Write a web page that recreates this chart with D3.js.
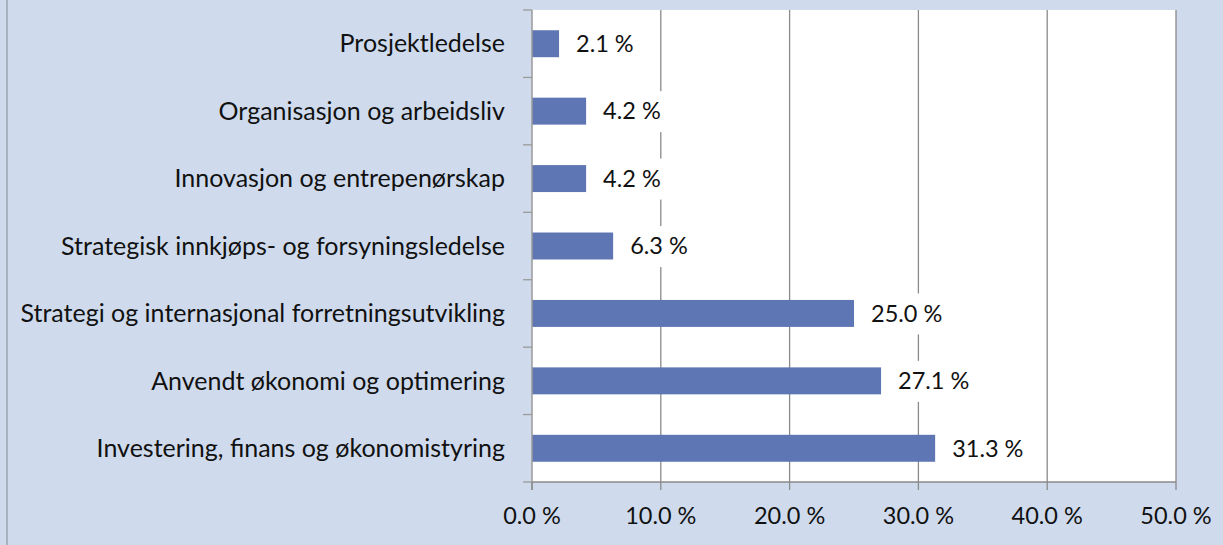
<!DOCTYPE html>
<html>
<head>
<meta charset="utf-8">
<script src="https://d3js.org/d3.v7.min.js"></script>
<style>
  body { margin: 0; background: #cfdbed; }
  text { font-family: Lato, "Open Sans", sans-serif; fill: #111; font-size: 23.5px; }
  .cat { font-size: 25px; }
</style>
</head>
<body>
<svg id="chart" width="1223" height="545"></svg>
<script>
// categories top to bottom, values in percent
const categories = [
  "Prosjektledelse",
  "Organisasjon og arbeidsliv",
  "Innovasjon og entrepenørskap",
  "Strategisk innkjøps- og forsyningsledelse",
  "Strategi og internasjonal forretningsutvikling",
  "Anvendt økonomi og optimering",
  "Investering, finans og økonomistyring"
];
const values = [2.1, 4.2, 4.2, 6.3, 25.0, 27.1, 31.3];
const xTicks = [0, 10, 20, 30, 40, 50];

const svg = d3.select("#chart");
const margin = {left: 532, top: 10, right: 1176, bottom: 482};

svg.append("rect").attr("width", 1223).attr("height", 545).attr("fill", "#cfdbed");
// left border of the chart frame
svg.append("rect").attr("x", 6).attr("y", 0).attr("width", 2).attr("height", 545).attr("fill", "#a8b1bf");

const x = d3.scaleLinear().domain([0, 50]).range([margin.left, margin.right]);
const y = d3.scaleBand().domain(categories).range([margin.top, margin.bottom]).paddingInner(0.6).paddingOuter(0.3);
const yb = d3.scaleBand().domain(categories).range([margin.top, margin.bottom]);

// plot area
svg.append("rect")
  .attr("x", margin.left).attr("y", margin.top)
  .attr("width", margin.right - margin.left).attr("height", margin.bottom - margin.top)
  .attr("fill", "#fff");

// gridlines
svg.append("g").selectAll("line")
  .data(xTicks.slice(1))
  .join("line")
    .attr("x1", d => x(d)).attr("x2", d => x(d))
    .attr("y1", margin.top).attr("y2", margin.bottom)
    .attr("stroke", "#8a8a8a").attr("stroke-width", 1.3);

// bars
svg.append("g").selectAll("rect")
  .data(values)
  .join("rect")
    .attr("x", x(0))
    .attr("y", (d, i) => y(categories[i]))
    .attr("width", d => x(d) - x(0))
    .attr("height", y.bandwidth())
    .attr("fill", "#5f76b4");

// value labels with white boxes
const lab = svg.append("g").selectAll("g")
  .data(values)
  .join("g")
    .attr("transform", (d, i) => `translate(${x(d) + 8},${yb(categories[i]) + yb.bandwidth() / 2})`);
lab.append("rect")
  .attr("x", 0).attr("y", -20).attr("width", 92).attr("height", 41)
  .attr("fill", "#fff");
lab.append("text")
  .attr("x", 9).attr("dy", "0.35em")
  .text(d => d.toFixed(1) + " %");

// axes
svg.append("line")
  .attr("x1", x(0)).attr("x2", x(0)).attr("y1", margin.top).attr("y2", margin.bottom + 8)
  .attr("stroke", "#9a9a9a").attr("stroke-width", 1.5);
svg.append("line")
  .attr("x1", x(0)).attr("x2", margin.right).attr("y1", margin.bottom).attr("y2", margin.bottom)
  .attr("stroke", "#8a8a8a").attr("stroke-width", 1.3);

// left ticks at band edges
const edges = categories.map(c => yb(c)).concat([margin.bottom]);
svg.append("g").selectAll("line")
  .data(edges)
  .join("line")
    .attr("x1", margin.left - 9).attr("x2", margin.left)
    .attr("y1", d => d).attr("y2", d => d)
    .attr("stroke", "#9a9a9a").attr("stroke-width", 1.3);

// bottom ticks
svg.append("g").selectAll("line")
  .data(xTicks)
  .join("line")
    .attr("x1", d => x(d)).attr("x2", d => x(d))
    .attr("y1", margin.bottom).attr("y2", margin.bottom + 8)
    .attr("stroke", "#8a8a8a").attr("stroke-width", 1.3);

// x tick labels
svg.append("g").selectAll("text")
  .data(xTicks)
  .join("text")
    .attr("x", d => x(d)).attr("y", 524)
    .attr("text-anchor", "middle")
    .text(d => d.toFixed(1) + " %");

// category labels
svg.append("g").selectAll("text")
  .data(categories)
  .join("text")
    .attr("class", "cat")
    .attr("x", 505)
    .attr("y", d => yb(d) + yb.bandwidth() / 2)
    .attr("dy", "0.35em")
    .attr("text-anchor", "end")
    .text(d => d);
</script>
</body>
</html>
